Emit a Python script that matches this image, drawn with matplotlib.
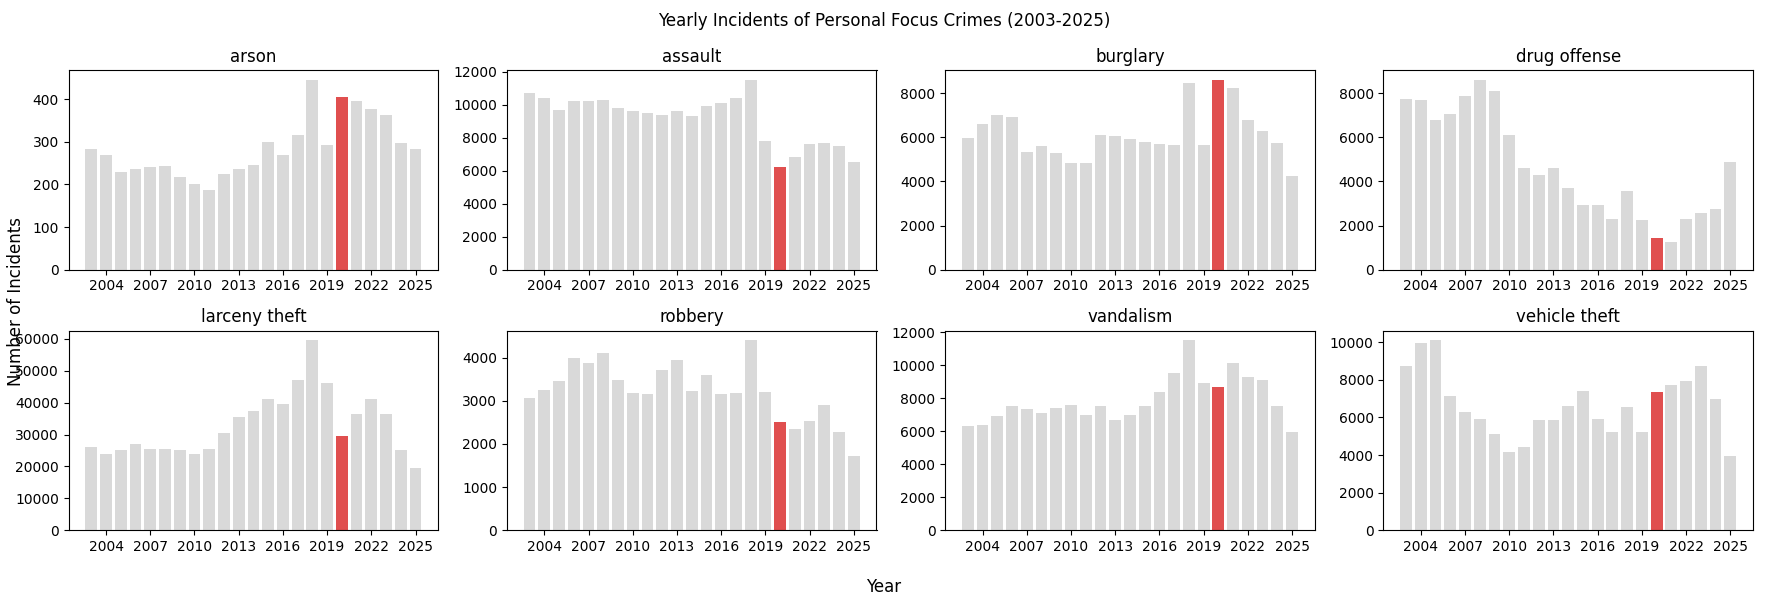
import matplotlib
matplotlib.use("Agg")
import matplotlib.pyplot as plt

years = list(range(2003, 2026))
highlight_year = 2020

arson = [282, 270, 228, 237, 240, 242, 218, 200, 187, 225, 237, 245, 300, 270, 315, 445, 292, 405, 395, 377, 362, 298, 282]
assault = [10700, 10400, 9700, 10200, 10200, 10300, 9800, 9600, 9500, 9400, 9600, 9300, 9900, 10100, 10400, 11500, 7800, 6200, 6800, 7600, 7700, 7500, 6500]
burglary = [5950, 6600, 7000, 6900, 5350, 5600, 5300, 4850, 4850, 6100, 6050, 5900, 5800, 5700, 5650, 8450, 5650, 8600, 8250, 6800, 6300, 5750, 4250]
drug_offense = [7750, 7700, 6800, 7050, 7850, 8600, 8100, 6100, 4600, 4300, 4600, 3700, 2950, 2950, 2300, 3550, 2250, 1450, 1250, 2300, 2550, 2750, 4900]
larceny_theft = [26000, 24000, 25000, 27000, 25500, 25500, 25000, 24000, 25500, 30500, 35500, 37500, 41000, 39500, 47000, 59500, 46000, 29500, 36500, 41000, 36500, 25000, 19500]
robbery = [3070, 3250, 3450, 3980, 3870, 4100, 3470, 3180, 3150, 3720, 3950, 3230, 3600, 3150, 3170, 4400, 3200, 2500, 2350, 2520, 2900, 2270, 1720]
vandalism = [6300, 6350, 6900, 7500, 7350, 7100, 7400, 7600, 6950, 7500, 6700, 7000, 7500, 8400, 9500, 11500, 8900, 8700, 10100, 9300, 9100, 7500, 5950]
vehicle_theft = [8750, 9950, 10100, 7150, 6300, 5900, 5100, 4150, 4450, 5850, 5850, 6600, 7400, 5900, 5200, 6550, 5250, 7350, 7700, 7950, 8750, 7000, 3950]

crimes = {
    "arson": arson,
    "assault": assault,
    "burglary": burglary,
    "drug offense": drug_offense,
    "larceny theft": larceny_theft,
    "robbery": robbery,
    "vandalism": vandalism,
    "vehicle theft": vehicle_theft,
}

fig, axes = plt.subplots(2, 4, figsize=(17.68, 6.02), dpi=100)
for ax, (name, vals) in zip(axes.flat, crimes.items()):
    colors = ["#e04f4f" if y == highlight_year else "#d9d9d9" for y in years]
    ax.bar(years, vals, color=colors, width=0.8)
    ax.set_title(name)
    ax.set_xticks(range(2004, 2026, 3))

fig.suptitle("Yearly Incidents of Personal Focus Crimes (2003-2025)")
fig.supxlabel("Year")
fig.tight_layout()
# y label added after layout so the axes reach close to the left edge
fig.supylabel("Number of Incidents", x=0.004)
fig.savefig("out.png")
